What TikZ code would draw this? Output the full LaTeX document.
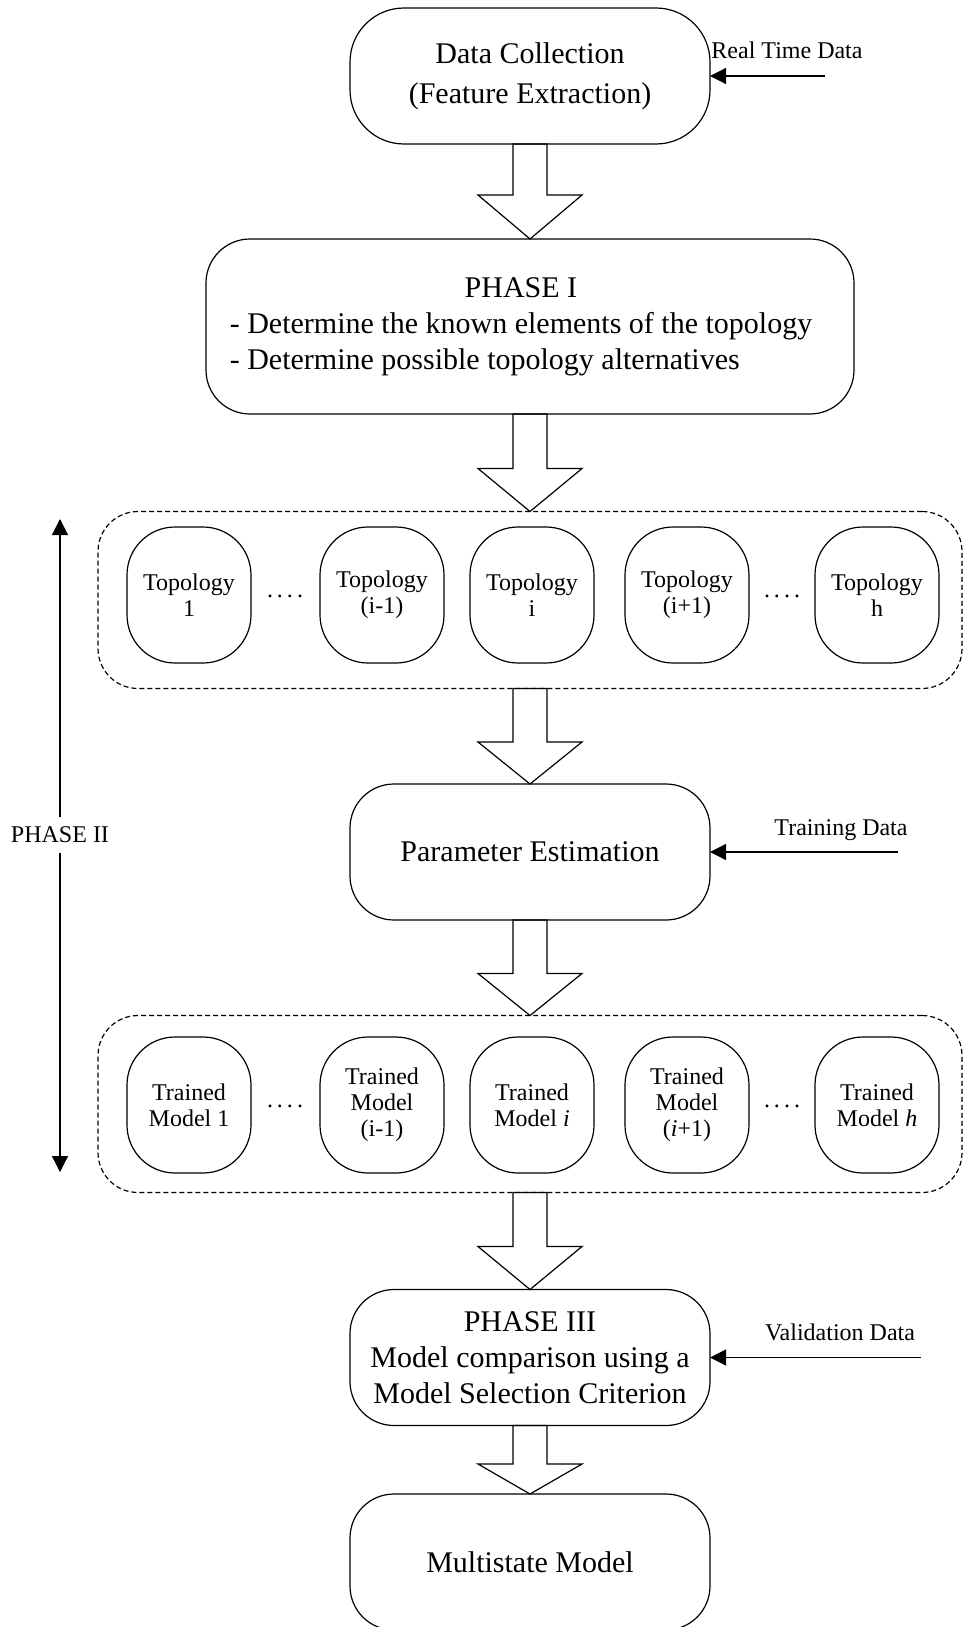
\documentclass[tikz,border=0pt]{standalone}
\usepackage{fontspec}
\setmainfont{Liberation Serif}
\usetikzlibrary{arrows.meta,calc}
\begin{document}
\begin{tikzpicture}[x=0.5pt,y=0.5pt,line width=0.6pt]
\tikzstyle{every node}+=[inner sep=0pt,outer sep=0pt]
\tikzstyle{stage}=[draw,rounded corners=22pt,minimum width=180pt,minimum height=68pt,align=center,font=\fontsize{15}{18}\selectfont]
\tikzstyle{alt}=[draw,rounded corners=24pt,minimum width=62pt,minimum height=68pt,align=center,font=\fontsize{12}{13}\selectfont]
\tikzstyle{dashgroup}=[draw,dash pattern=on 2.5pt off 1.5pt,rounded corners=20pt,minimum width=432pt,minimum height=88.5pt]
\tikzstyle{lbl}=[font=\fontsize{12}{14}\selectfont,anchor=base]
\tikzstyle{feed}=[-{Triangle[length=8pt,width=8pt]}]
\useasboundingbox (0,0) rectangle (964,-1627);
\node[stage,rounded corners=27pt,font=\fontsize{15}{20}\selectfont] (collect) at (530,-76) {Data Collection\\(Feature Extraction)};
\node[stage,minimum width=324pt,minimum height=87.5pt] (phaseone) at (530,-326.5) {\hbox{\begin{tabular}{@{}l@{}}\multicolumn{1}{@{}c@{}}{PHASE I}\\- Determine the known elements of the topology\\- Determine possible topology alternatives\end{tabular}\kern9pt}};
\node[dashgroup] (topobox) at (530,-600) {};
\node[alt] (topo1) at (189,-595) {Topology\\1};
\node[alt] (topoprev) at (382,-595) {Topology\\(i-1)};
\node[alt] (topoi) at (532,-595) {Topology\\i};
\node[alt] (toponext) at (687,-595) {Topology\\(i+1)};
\node[alt] (topoh) at (877,-595) {Topology\\h};
\node[font=\fontsize{12}{13}\selectfont] (topodotsa) at (285,-596) {.\,.\,.\,.};
\node[font=\fontsize{12}{13}\selectfont] (topodotsb) at (782,-596) {.\,.\,.\,.};
\node[stage] (param) at (530,-852) {Parameter Estimation};
\node[dashgroup] (trainbox) at (530,-1104) {};
\node[alt] (train1) at (189,-1105) {Trained\\Model 1};
\node[alt] (trainprev) at (382,-1105) {Trained\\Model\\(i-1)};
\node[alt] (traini) at (532,-1105) {Trained\\Model \textit{i}};
\node[alt] (trainnext) at (687,-1105) {Trained\\Model\\(\textit{i}+1)};
\node[alt] (trainh) at (877,-1105) {Trained\\Model \textit{h}};
\node[font=\fontsize{12}{13}\selectfont] (traindotsa) at (285,-1106) {.\,.\,.\,.};
\node[font=\fontsize{12}{13}\selectfont] (traindotsb) at (782,-1106) {.\,.\,.\,.};
\node[stage] (phasethree) at (530,-1357.5) {PHASE III\\Model comparison using a\\Model Selection Criterion};
\node[stage] (multi) at (530,-1562) {Multistate Model};
\node[lbl] (rtdlabel) at (787,-59) {Real Time Data};
\node[lbl] (trdlabel) at (841,-835) {Training Data};
\node[lbl] (vdlabel) at (840,-1340) {Validation Data};
\coordinate (rtd) at (825,-76);
\coordinate (trd) at (898,-852);
\coordinate (vd) at (921,-1357.5);
\draw[feed] (rtd) -- (collect.east);
\draw[feed] (trd) -- (param.east);
\draw[feed] (vd) -- (phasethree.east);
\node[font=\fontsize{12}{14}\selectfont,inner ysep=4.75pt] (phasetwo) at (60,-835) {PHASE II};
\coordinate (ptwotop) at (60,-519);
\coordinate (ptwobot) at (60,-1172);
\draw[feed] (phasetwo) -- (ptwotop);
\draw[feed] (phasetwo) -- (ptwobot);
\draw ($(collect.south)+(-17,0)$) -- ($(phaseone.north)+(-17,44)$) -- ++(-35,0) -- (phaseone.north) -- ++(52,44) -- ++(-35,0) -- ($(collect.south)+(17,0)$) -- cycle;
\draw ($(phaseone.south)+(-17,0)$) -- ($(topobox.north)+(-17,43)$) -- ++(-35,0) -- (topobox.north) -- ++(52,43) -- ++(-35,0) -- ($(phaseone.south)+(17,0)$) -- cycle;
\draw ($(topobox.south)+(-17,0)$) -- ($(param.north)+(-17,42)$) -- ++(-35,0) -- (param.north) -- ++(52,42) -- ++(-35,0) -- ($(topobox.south)+(17,0)$) -- cycle;
\draw ($(param.south)+(-17,0)$) -- ($(trainbox.north)+(-17,42)$) -- ++(-35,0) -- (trainbox.north) -- ++(52,42) -- ++(-35,0) -- ($(param.south)+(17,0)$) -- cycle;
\draw ($(trainbox.south)+(-17,0)$) -- ($(phasethree.north)+(-17,43)$) -- ++(-35,0) -- (phasethree.north) -- ++(52,43) -- ++(-35,0) -- ($(trainbox.south)+(17,0)$) -- cycle;
\draw ($(phasethree.south)+(-17,0)$) -- ($(multi.north)+(-17,30)$) -- ++(-35,0) -- (multi.north) -- ++(52,30) -- ++(-35,0) -- ($(phasethree.south)+(17,0)$) -- cycle;
\end{tikzpicture}
\end{document}
